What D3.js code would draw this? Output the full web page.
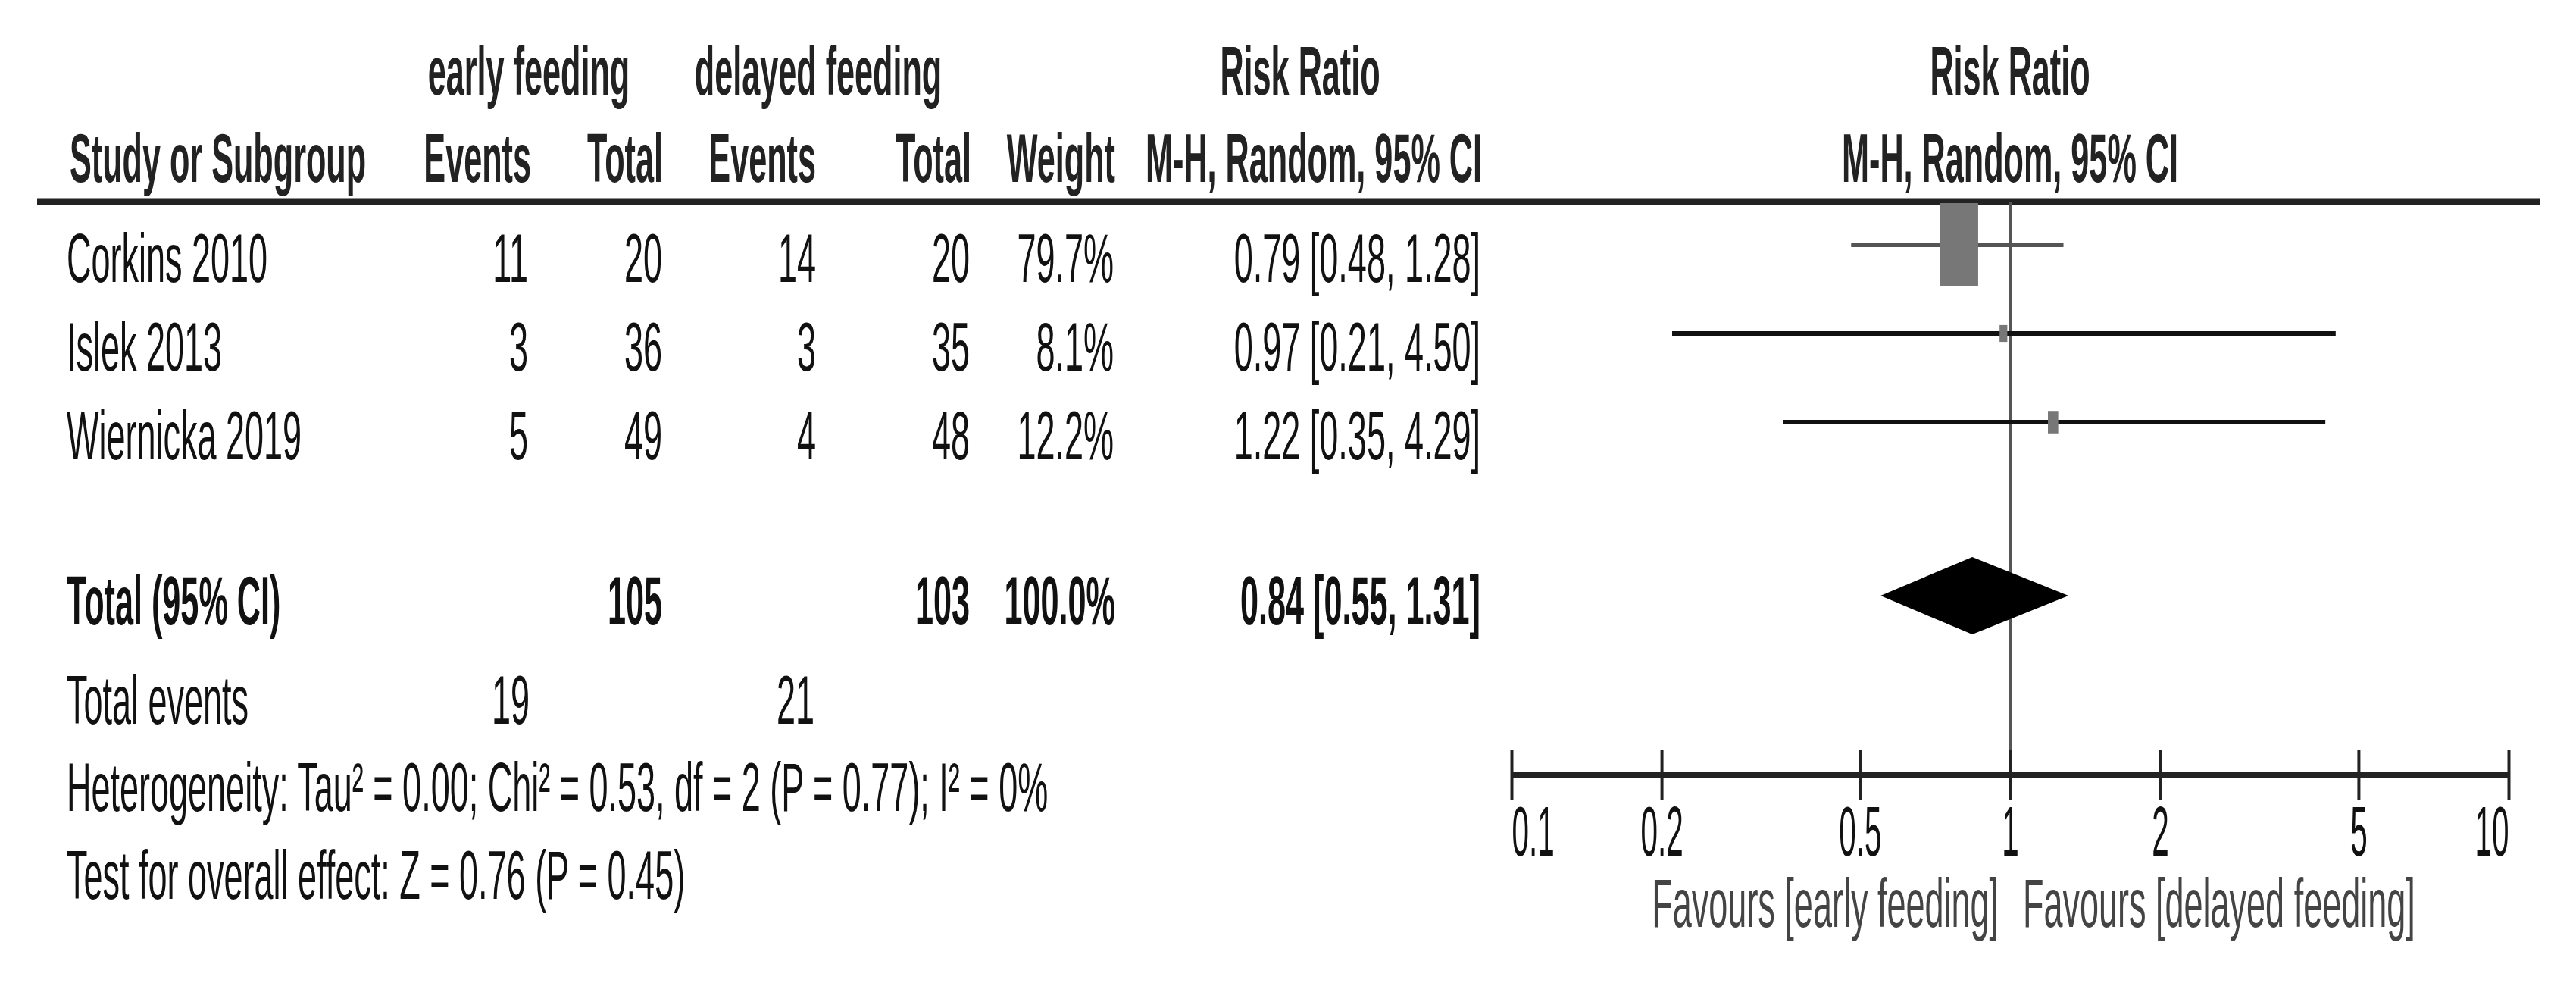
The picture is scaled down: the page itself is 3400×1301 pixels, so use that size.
<!DOCTYPE html>
<html>
<head>
<meta charset="utf-8">
<script src="https://cdn.jsdelivr.net/npm/d3@7"></script>
<style>
  body { margin: 0; background: #fff; }
  svg { display: block; font-family: "Liberation Sans", Arial, sans-serif; }
</style>
</head>
<body>
<svg id="forest" width="3400" height="1301"></svg>
<script>
// data
var studies = ["Corkins 2010", "Islek 2013", "Wiernicka 2019"];
var earlyEvents = [11, 3, 5];
var earlyTotal = [20, 36, 49];
var delayedEvents = [14, 3, 4];
var delayedTotal = [20, 35, 48];
var weights = [79.7, 8.1, 12.2];
var riskRatio = [0.79, 0.97, 1.22];
var ciLow = [0.48, 0.21, 0.35];
var ciHigh = [1.28, 4.50, 4.29];
var pooled = [0.84, 0.55, 1.31];          // RR, low, high
var pooledTotals = [105, 103];            // early, delayed
var pooledEvents = [19, 21];
var pooledWeight = 100.0;
var axisTicks = [0.1, 0.2, 0.5, 1, 2, 5, 10];
var heterogeneity = "Heterogeneity: Tau\u00b2 = 0.00; Chi\u00b2 = 0.53, df = 2 (P = 0.77); I\u00b2 = 0%";
var overallEffect = "Test for overall effect: Z = 0.76 (P = 0.45)";
var favourLeft = "Favours [early feeding]";
var favourRight = "Favours [delayed feeding]";

var svg = d3.select("svg#forest");

var FS = 90,          // font size
    SX = 0.5,         // horizontal squash of the text
    SXB = 0.48;       // same for bold

var x = d3.scaleLog().domain([0.1, 10]).range([1995, 3311]);
var rowY = d3.scaleLinear().domain([0, 1]).range([323, 440]);
var totalY = 786, axisY = 1022;
var boxH = d3.scalePow().exponent(0.7).domain([0, 79.7]).range([0, 110]);

function txt(px, py, s, anchor, bold, fill, sx) {
    var k = sx || (bold ? SXB : SX);
    return svg.append("text")
        .attr("transform", "translate(" + px + "," + py + ") scale(" + k + ",1)")
        .attr("text-anchor", anchor || "start")
        .style("font-size", FS + "px")
        .style("font-weight", bold ? "bold" : "normal")
        .attr("fill", fill || "#111")
        .text(s);
}

function fmt1(v) { return v.toFixed(1) + "%"; }
function fmtCI(r, l, h) { return r.toFixed(2) + " [" + l.toFixed(2) + ", " + h.toFixed(2) + "]"; }

// HEADER
txt(698, 125, "early feeding", "middle", true, "#222");
txt(1080, 125, "delayed feeding", "middle", true, "#222");
txt(1716, 125, "Risk Ratio", "middle", true, "#222");
txt(x(1), 125, "Risk Ratio", "middle", true, "#222");

txt(92, 240, "Study or Subgroup", "start", true, "#222");
txt(701, 240, "Events", "end", true, "#222");
txt(875, 240, "Total", "end", true, "#222");
txt(1077, 240, "Events", "end", true, "#222");
txt(1282, 240, "Total", "end", true, "#222");
txt(1472, 240, "Weight", "end", true, "#222");
txt(1956, 240, "M-H, Random, 95% CI", "end", true, "#222");
txt(x(1), 240, "M-H, Random, 95% CI", "middle", true, "#222");

svg.append("line")
    .attr("x1", 49).attr("x2", 3352)
    .attr("y1", 266).attr("y2", 266)
    .attr("stroke", "#222").attr("stroke-width", 9);

// STUDY ROWS
studies.forEach(function (name, i) {
    var by = rowY(i) + 49;
    txt(88, by, name);
    txt(697, by, earlyEvents[i], "end");
    txt(874, by, earlyTotal[i], "end");
    txt(1077, by, delayedEvents[i], "end");
    txt(1280, by, delayedTotal[i], "end");
    txt(1470, by, fmt1(weights[i]), "end");
    txt(1954, by, fmtCI(riskRatio[i], ciLow[i], ciHigh[i]), "end");
});

// TOTAL ROWS
txt(88, totalY + 38, "Total (95% CI)", "start", true);
txt(874, totalY + 38, pooledTotals[0], "end", true);
txt(1280, totalY + 38, pooledTotals[1], "end", true);
txt(1472, totalY + 38, fmt1(pooledWeight), "end", true);
txt(1954, totalY + 38, fmtCI(pooled[0], pooled[1], pooled[2]), "end", true);

txt(88, 955, "Total events");
txt(699, 955, pooledEvents[0], "end");
txt(1075, 955, pooledEvents[1], "end");
txt(88, 1070, heterogeneity);
txt(88, 1186, overallEffect);

// PLOT
var plot = svg.append("g");

// line of no effect
plot.append("line")
    .attr("x1", x(1)).attr("x2", x(1))
    .attr("y1", 266).attr("y2", axisY + 33)
    .attr("stroke", "#555").attr("stroke-width", 4);

plot.selectAll(".ci")
    .data(studies)
    .enter()
    .append("line")
    .attr("class", "ci")
    .attr("x1", function (d, i) { return x(ciLow[i]); })
    .attr("x2", function (d, i) { return x(ciHigh[i]); })
    .attr("y1", function (d, i) { return rowY(i); })
    .attr("y2", function (d, i) { return rowY(i); })
    .attr("stroke", function (d, i) { return i === 0 ? "#555" : "#111"; })
    .attr("stroke-width", 6);

plot.selectAll(".box")
    .data(studies)
    .enter()
    .append("rect")
    .attr("class", "box")
    .attr("x", function (d, i) { return x(riskRatio[i]) - boxH(weights[i]) * 0.23; })
    .attr("y", function (d, i) { return rowY(i) - boxH(weights[i]) / 2; })
    .attr("width", function (d, i) { return boxH(weights[i]) * 0.46; })
    .attr("height", function (d, i) { return boxH(weights[i]); })
    .attr("fill", "#777");

plot.append("path")
    .attr("d", "M" + x(pooled[1]) + "," + totalY +
               "L" + x(pooled[0]) + "," + (totalY - 51) +
               "L" + x(pooled[2]) + "," + totalY +
               "L" + x(pooled[0]) + "," + (totalY + 51) + "Z")
    .attr("fill", "#000");

// AXIS
var axis = plot.append("g")
    .attr("class", "axis")
    .attr("transform", "translate(0," + axisY + ")")
    .call(d3.axisBottom(x).tickValues(axisTicks).tickSizeOuter(0).tickSizeInner(33).tickFormat(d3.format("")));

axis.select("path.domain")
    .attr("stroke", "#222").attr("stroke-width", 8);

axis.selectAll(".tick line")
    .attr("y1", -32)
    .attr("stroke", "#222").attr("stroke-width", 4);

axis.selectAll(".tick text")
    .attr("y", 0).attr("dy", 0)
    .attr("fill", "#111")
    .style("font-size", (FS + 2) + "px")
    .style("font-family", "'Liberation Sans', Arial, sans-serif")
    .attr("text-anchor", function (d, i) { return i === 0 ? "start" : (i === axisTicks.length - 1 ? "end" : "middle"); })
    .attr("transform", "translate(0,107) scale(0.44,1)");

txt(x(1) - 15, 1223, favourLeft, "end", false, "#444");
txt(x(1) + 17, 1223, favourRight, "start", false, "#444");
</script>
</body>
</html>
